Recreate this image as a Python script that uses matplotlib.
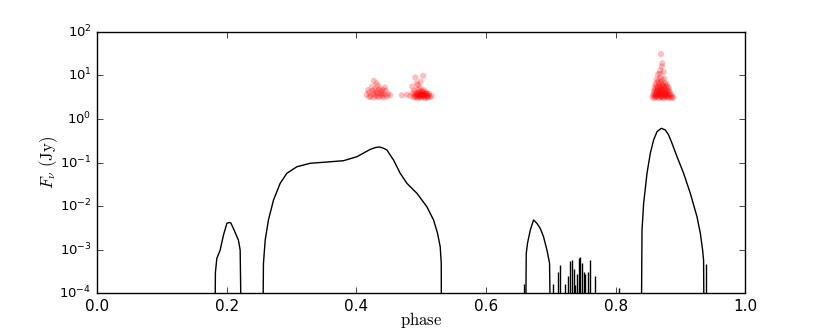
import numpy as np
import matplotlib
matplotlib.use('Agg')
from matplotlib import pyplot as plt
from matplotlib.ticker import NullLocator

# model light curve (phase, flux in Jy)
curve_phase = [0.181, 0.1825, 0.1847, 0.1898, 0.1949, 0.2002, 0.2035, 0.2063, 0.2114, 0.218, 0.2207, 0.2233,
               0.2550, 0.2566, 0.2593, 0.2643, 0.2721, 0.2824, 0.2927, 0.3082, 0.3287, 0.3545, 0.3801,
               0.4008, 0.4213, 0.4300, 0.4357, 0.4410, 0.447, 0.4573, 0.4676, 0.4779, 0.4934, 0.5088,
               0.519, 0.5252, 0.5293, 0.5309, 0.5313,
               0.6605, 0.662, 0.664, 0.6682, 0.6733, 0.6785, 0.6836, 0.6887, 0.694, 0.698, 0.7002,
               0.839, 0.8406, 0.8431, 0.8483, 0.8534, 0.8585, 0.8637, 0.8704, 0.8765, 0.8816, 0.8869,
               0.8946, 0.9048, 0.9151, 0.9254, 0.9306, 0.9341, 0.9356, 0.9367]
curve_flux = [1e-6, 3.0e-4, 6.3e-4, 9.7e-4, 2.15e-3, 4.0e-3, 4.2e-3, 4.1e-3, 2.8e-3, 1.65e-3, 9.7e-4, 1e-6,
              1e-6, 4.8e-4, 1.65e-3, 4.8e-3, 0.0137, 0.0333, 0.0565, 0.080, 0.096, 0.1026, 0.110,
              0.136, 0.200, 0.222, 0.227, 0.215, 0.194, 0.114, 0.0565, 0.0333, 0.0196, 9.6e-3,
              4.8e-3, 2.36e-3, 1.16e-3, 4.8e-4, 1e-6,
              1e-6, 8.2e-4, 1.4e-3, 2.8e-3, 4.8e-3, 4.0e-3, 3.07e-3, 1.97e-3, 9.7e-4, 4.8e-4, 1e-6,
              1e-6, 2.8e-3, 0.0115, 0.0565, 0.163, 0.33, 0.51, 0.61, 0.56, 0.43, 0.276,
              0.136, 0.0565, 0.0196, 5.7e-3, 2.36e-3, 9.7e-4, 5.7e-4, 1e-6]

# isolated spikes of the model
spike_phase = [0.658, 0.704, 0.711, 0.7145, 0.722, 0.726, 0.730, 0.7325, 0.735, 0.7377, 0.740,
               0.7428, 0.7454, 0.748, 0.7505, 0.753, 0.7566, 0.7608, 0.7685, 0.8045, 0.9387]
spike_flux = [1.6e-4, 1.6e-4, 3.0e-4, 4.4e-4, 1.6e-4, 2.5e-4, 5.5e-4, 5.7e-4, 3.5e-4, 1.5e-4, 2.8e-4,
              6.3e-4, 6.6e-4, 4.8e-4, 3.0e-4, 2.8e-4, 3.0e-4, 5.7e-4, 2.5e-4, 1.3e-4, 4.6e-4]

# observed points
obs1_phase = [0.416, 0.420, 0.422, 0.424, 0.425, 0.426, 0.427, 0.428, 0.429, 0.430, 0.431,
              0.432, 0.433, 0.434, 0.435, 0.436, 0.437, 0.438, 0.439, 0.440, 0.441, 0.442,
              0.443, 0.445, 0.447, 0.449, 0.452, 0.427, 0.433, 0.420, 0.444, 0.418]
obs1_flux = [3.6, 4.1, 3.3, 5.5, 4.4, 3.8, 3.1, 4.8, 3.5, 4.2, 6.5,
             3.3, 3.9, 4.6, 3.2, 5.0, 3.7, 4.3, 3.4, 3.9, 4.7, 3.1,
             3.6, 4.4, 3.3, 3.8, 3.5, 7.5, 5.8, 3.2, 5.3, 4.6]

obs2_phase = [0.470, 0.478, 0.483, 0.486, 0.487, 0.488, 0.489, 0.490, 0.491, 0.491, 0.492,
              0.493, 0.493, 0.494, 0.495, 0.495, 0.496, 0.497, 0.497, 0.498, 0.498, 0.499,
              0.500, 0.500, 0.501, 0.501, 0.502, 0.503, 0.503, 0.504, 0.504, 0.505, 0.506,
              0.506, 0.507, 0.508, 0.509, 0.510, 0.511, 0.512, 0.514, 0.516, 0.499, 0.495,
              0.492, 0.494, 0.496, 0.498, 0.500, 0.502, 0.504, 0.506, 0.508, 0.510]
obs2_flux = [3.5, 3.6, 3.4, 5.5, 3.9, 3.2, 4.5, 3.6, 9.0, 3.1, 4.1,
             6.6, 3.4, 3.8, 4.8, 3.0, 3.5, 4.2, 3.2, 3.7, 5.2, 3.3,
             4.0, 3.1, 3.6, 4.4, 3.4, 9.8, 3.9, 3.2, 4.6, 3.5, 3.0,
             4.1, 3.7, 3.3, 3.9, 3.1, 3.5, 3.8, 3.2, 3.4, 7.2, 6.0,
             3.3, 3.6, 3.9, 3.4, 3.7, 4.2, 3.6, 3.4, 3.8, 3.3]

obs3_phase = [0.857, 0.859, 0.861, 0.863, 0.865, 0.867, 0.869, 0.871, 0.873, 0.875, 0.877,
              0.879, 0.881, 0.883, 0.885, 0.887, 0.889,
              0.858, 0.860, 0.862, 0.864, 0.866, 0.868, 0.870, 0.872, 0.874, 0.876, 0.878,
              0.880, 0.882, 0.884, 0.886,
              0.859, 0.861, 0.863, 0.865, 0.867, 0.869, 0.871, 0.873, 0.875, 0.877, 0.879,
              0.881, 0.883,
              0.860, 0.8625, 0.865, 0.8675, 0.870, 0.8725, 0.875, 0.8775, 0.880, 0.882,
              0.861, 0.864, 0.867, 0.870, 0.873, 0.876, 0.879,
              0.863, 0.866, 0.869, 0.872, 0.875,
              0.865, 0.868, 0.869, 0.871, 0.872, 0.874, 0.870,
              0.862, 0.866, 0.870, 0.874, 0.878, 0.864, 0.868, 0.872, 0.876, 0.868, 0.872]
obs3_flux = [3.2, 3.0, 3.3, 3.1, 3.4, 3.0, 3.2, 3.3, 3.1, 3.0, 3.4,
             3.2, 3.1, 3.3, 3.0, 3.2, 3.1,
             3.6, 3.8, 3.5, 4.0, 3.7, 3.9, 3.6, 3.8, 4.0, 3.5, 3.7,
             3.9, 3.6, 3.8, 3.5,
             4.3, 4.6, 4.2, 4.8, 4.4, 4.7, 4.3, 4.5, 4.8, 4.2, 4.6,
             4.4, 4.3,
             5.1, 5.6, 5.3, 5.8, 5.0, 5.5, 5.2, 5.7, 5.4, 5.1,
             6.2, 6.8, 6.4, 7.0, 6.1, 6.6, 6.3,
             8.2, 7.6, 8.8, 7.8, 8.4,
             10.5, 11.0, 13.0, 16.0, 19.0, 12.0, 31.0,
             3.4, 3.6, 3.3, 3.5, 3.4, 4.4, 4.1, 4.6, 4.0, 5.4, 6.0]

plt.style.use('classic')
fig = plt.figure(figsize=(8.3, 3.32), dpi=100)
ax = fig.add_axes([0.117, 0.117, 0.781, 0.787])

ax.plot(curve_phase, curve_flux, color='k', lw=1.0)
ax.vlines(spike_phase, 1e-6, spike_flux, color='k', lw=1.0)

for ph, fl in [(obs1_phase, obs1_flux), (obs2_phase, obs2_flux), (obs3_phase, obs3_flux)]:
    ax.scatter(ph, fl, s=20, color='red', edgecolors='none', alpha=0.25)

ax.set_yscale('log')
ax.set_xlim(0, 1)
ax.set_ylim(1e-4, 1e2)
ax.yaxis.set_minor_locator(NullLocator())
ax.tick_params(axis='x', labelsize=11)
ax.tick_params(axis='y', labelsize=9.5)
ax.set_xlabel(r'$\mathrm{phase}$', fontsize=12, math_fontfamily='cm', labelpad=-3)
ax.set_ylabel(r'$F_\nu\ (\mathrm{Jy})$', fontsize=12, math_fontfamily='cm')
ax.yaxis.set_label_coords(-0.058, 0.5)

fig.savefig('out.png', dpi=100, facecolor='white')
